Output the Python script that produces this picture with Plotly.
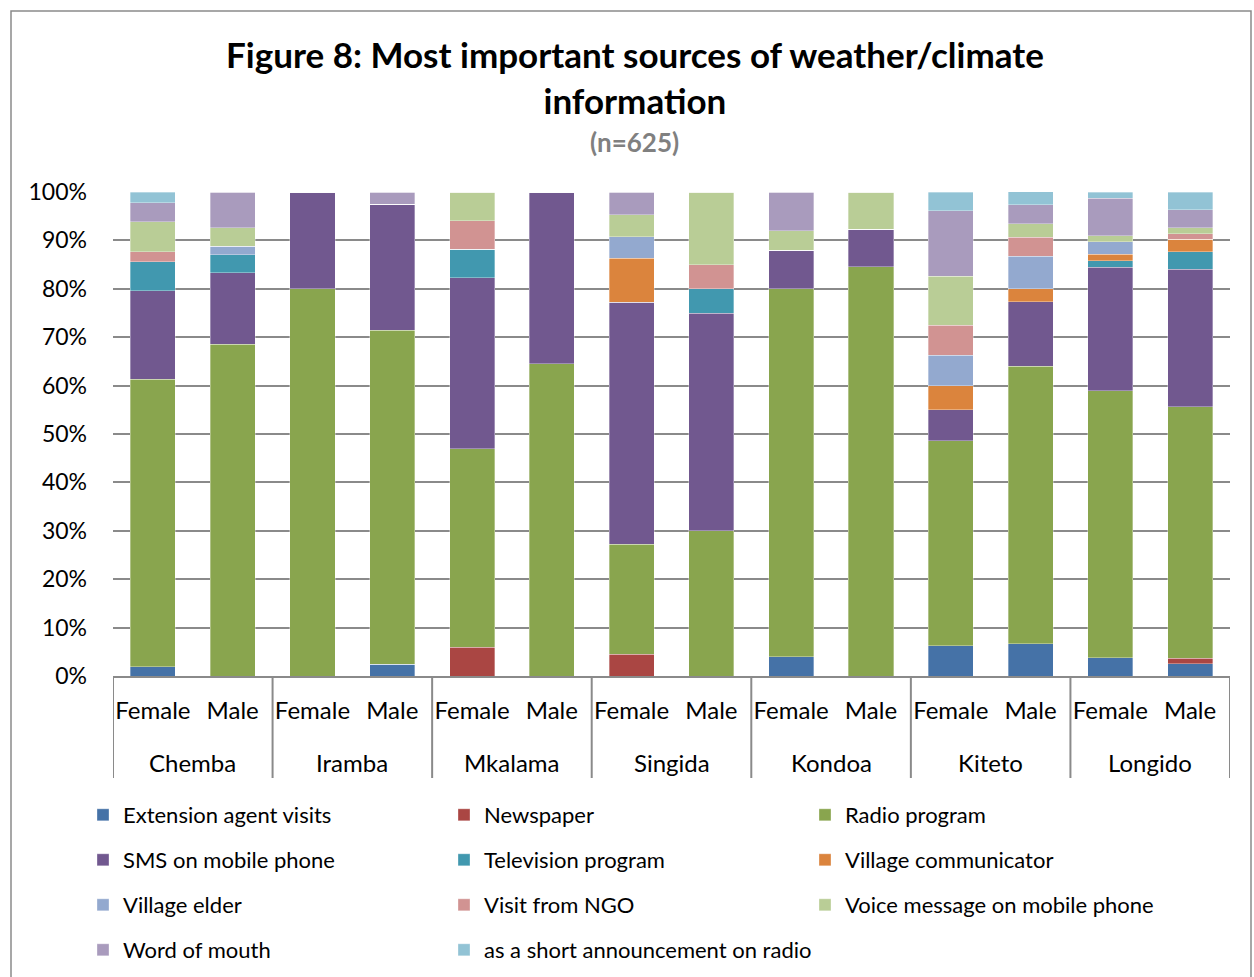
import plotly.graph_objects as go

# Districts and respondent gender (two-level category axis)
districts = ["Chemba", "Iramba", "Mkalama", "Singida", "Kondoa", "Kiteto", "Longido"]
genders = ["Female", "Male"]

# Share of respondents (%) per source, ordered Chemba F, Chemba M, Iramba F, ...
extension_agent = [1.9, 0, 0, 2.4, 0, 0, 0, 0, 4.0, 0, 6.3, 6.7, 3.8, 2.5]
newspaper = [0, 0, 0, 0, 5.9, 0, 4.5, 0, 0, 0, 0, 0, 0, 1.2]
radio_program = [59.4, 68.5, 80.0, 69.0, 41.1, 64.5, 22.7, 30.0, 76.0, 84.6, 42.3, 57.3, 55.1, 51.9]
sms_mobile = [18.3, 14.8, 20.0, 26.1, 35.3, 35.5, 50.0, 45.0, 8.0, 7.7, 6.4, 13.3, 25.6, 28.4]
television = [6.0, 3.7, 0, 0, 5.9, 0, 0, 5.0, 0, 0, 0, 0, 1.3, 3.7]
village_communicator = [0, 0, 0, 0, 0, 0, 9.1, 0, 0, 0, 5.0, 2.7, 1.3, 2.5]
village_elder = [0, 1.8, 0, 0, 0, 0, 4.5, 0, 0, 0, 6.3, 6.7, 2.6, 0]
visit_ngo = [2.1, 0, 0, 0, 5.9, 0, 0, 5.0, 0, 0, 6.2, 4.0, 0, 1.2]
voice_message = [6.2, 3.8, 0, 0, 5.9, 0, 4.5, 15.0, 4.0, 7.7, 10.1, 2.7, 1.3, 1.2]
word_of_mouth = [3.9, 7.4, 0, 2.5, 0, 0, 4.6, 0, 8.0, 0, 13.5, 4.0, 7.7, 3.7]
radio_announcement = [2.2, 0, 0, 0, 0, 0, 0, 0, 0, 0, 3.9, 2.7, 1.3, 3.7]

series_names = [
    "Extension agent visits", "Newspaper", "Radio program",
    "SMS on mobile phone", "Television program", "Village communicator",
    "Village elder", "Visit from NGO", "Voice message on mobile phone",
    "Word of mouth", "as a short announcement on radio",
]
series_values = [
    extension_agent, newspaper, radio_program, sms_mobile, television,
    village_communicator, village_elder, visit_ngo, voice_message,
    word_of_mouth, radio_announcement,
]
series_colors = [
    "#4572A7", "#AA4643", "#89A54E", "#71588F", "#4198AF", "#DB843D",
    "#93A9CF", "#D19392", "#B9CD96", "#A99BBD", "#92C3D5",
]

y_ticks = [0, 10, 20, 30, 40, 50, 60, 70, 80, 90, 100]
y_tick_labels = [f"{v}%" for v in y_ticks]

FONT = "Lato, 'Open Sans', sans-serif"
GRID = "#8a8a8a"

# One category per district/gender pair; the gender is shown as tick text
bar_keys = [f"{d} {g}" for d in districts for g in genders]
bar_ticktext = [g for _ in districts for g in genders]

W, H = 1254, 977
L, R, T, B = 113, 24, 192, 301
pw, ph = W - L - R, H - T - B


def px_x(x):
    return (x - L) / pw


def px_y(y):
    return (H - B - y) / ph


# Legend layout: one legend per row, three columns
col_x = [83, 444, 805]
row_y = [815, 860, 905, 950]
legend_ids = ["legend", "legend2", "legend3", "legend4", "legend5"]
legend_slots = [0, 0, 0, 1, 1, 1, 2, 2, 2, 3, 4]
legend_pos = {
    "legend": (col_x[0], row_y[0]),
    "legend2": (col_x[0], row_y[1]),
    "legend3": (col_x[0], row_y[2]),
    "legend4": (col_x[0], row_y[3]),
    "legend5": (col_x[1], row_y[3]),
}

fig = go.Figure()
for name, vals, col, slot in zip(series_names, series_values, series_colors, legend_slots):
    fig.add_trace(go.Bar(
        x=bar_keys, y=vals, name=name,
        marker=dict(color=col, line=dict(width=0.6, color="rgba(255,255,255,0.55)")),
        width=0.565,
        legend=legend_ids[slot],
    ))

# District labels under each pair of bars
for k, d in enumerate(districts):
    fig.add_annotation(xref="x", yref="paper", x=2 * k + 0.5, y=px_y(762),
                       text=d, showarrow=False, yanchor="middle",
                       font=dict(family=FONT, size=24, color="#000000"))

# Group dividers below the category axis
for k in range(len(districts) + 1):
    fig.add_shape(type="line", xref="x", yref="paper",
                  x0=2 * k - 0.5, x1=2 * k - 0.5, y0=0, y1=px_y(778),
                  line=dict(color=GRID, width=2))

# Frame around the whole chart
fig.add_shape(type="rect", xref="paper", yref="paper",
              x0=px_x(11), x1=px_x(1251), y0=px_y(995), y1=px_y(11),
              line=dict(color=GRID, width=1.5), fillcolor="rgba(0,0,0,0)",
              layer="below")

fig.add_annotation(xref="paper", yref="paper", x=px_x(634.5), y=px_y(77),
                   text="<b>Figure 8: Most important sources of weather/climate<br>information</b>",
                   showarrow=False, font=dict(family=FONT, size=35, color="#000000"),
                   align="center", yanchor="middle")
fig.add_annotation(xref="paper", yref="paper", x=px_x(634.5), y=px_y(142),
                   text="<b>(n=625)</b>", showarrow=False,
                   font=dict(family=FONT, size=26, color="#808080"), yanchor="middle")

legend_common = dict(orientation="h", entrywidth=316, entrywidthmode="pixels",
                     font=dict(family=FONT, size=22, color="#000000"),
                     xref="container", yref="container",
                     xanchor="left", yanchor="middle", bgcolor="rgba(0,0,0,0)",
                     traceorder="normal")
legend_layout = {}
for key, (xx, yy) in legend_pos.items():
    legend_layout[key] = dict(legend_common, x=xx / W, y=1 - yy / H)
legend_layout["legend5"]["entrywidth"] = 380

fig.update_layout(
    width=W, height=H,
    margin=dict(l=L, r=R, t=T, b=B, pad=0),
    barmode="stack", bargap=0.435,
    plot_bgcolor="white", paper_bgcolor="white",
    font=dict(family=FONT, size=22, color="#000000"),
    showlegend=True,
    xaxis=dict(
        type="category", showgrid=False, showline=True, automargin=False,
        linecolor=GRID, linewidth=2, ticks="", tickangle=0,
        tickvals=bar_keys, ticktext=bar_ticktext,
        ticklabelstandoff=12, range=[-0.5, len(bar_keys) - 0.5],
        tickfont=dict(family=FONT, size=24, color="#000000"),
    ),
    yaxis=dict(
        range=[0, 100], tickvals=y_ticks, ticktext=y_tick_labels,
        showgrid=True, gridcolor=GRID, gridwidth=2, automargin=False,
        zeroline=False, showline=False, ticks="",
        ticklabelstandoff=25,
        tickfont=dict(family=FONT, size=23, color="#000000"),
    ),
    **legend_layout,
)

fig.write_html("out.html")
